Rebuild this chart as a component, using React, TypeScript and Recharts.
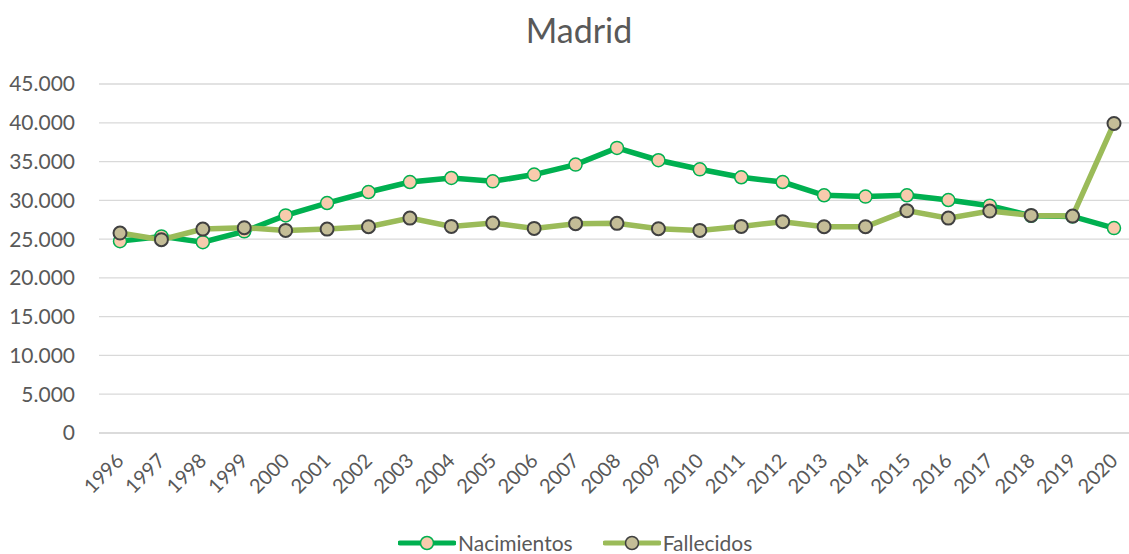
import { LineChart, Line, XAxis, YAxis, CartesianGrid } from "recharts";

const years = [
  "1996", "1997", "1998", "1999", "2000", "2001", "2002", "2003", "2004", "2005", "2006", "2007", "2008",
  "2009", "2010", "2011", "2012", "2013", "2014", "2015", "2016", "2017", "2018", "2019", "2020",
];

const nacimientos = [
  24740, 25350, 24610, 26000, 28060, 29650, 31070, 32360, 32880, 32450, 33320, 34610, 36760,
  35170, 34000, 32970, 32360, 30650, 30480, 30650, 30040, 29310, 28000, 27930, 26420,
];

const fallecidos = [
  25780, 24920, 26290, 26470, 26120, 26290, 26600, 27710, 26640, 27070, 26380, 26990, 27030,
  26340, 26120, 26640, 27250, 26600, 26600, 28670, 27710, 28620, 28060, 27970, 39910,
];

const yTicks = [0, 5000, 10000, 15000, 20000, 25000, 30000, 35000, 40000, 45000];

const seriesNames = ["Nacimientos", "Fallecidos"];

const data = years.map((year, i) => ({
  year,
  Nacimientos: nacimientos[i],
  Fallecidos: fallecidos[i],
}));

const FONT = "Lato, 'Open Sans', sans-serif";
const TEXT = "#595959";

// thousands with a dot, like the Spanish Excel source
const fmt = (v: number) => String(v).replace(/\B(?=(\d{3})+(?!\d))/g, ".");

function YearTick({ x, y, payload }: any) {
  const ax = x + 5;
  const ay = y + 21;
  return (
    <text
      x={ax}
      y={ay}
      transform={`rotate(-45, ${ax}, ${ay})`}
      textAnchor="end"
      fontSize={20}
      fontFamily={FONT}
      fill={TEXT}
    >
      {payload.value}
    </text>
  );
}

function LegendItem({ name, line, fill, stroke, r }: any) {
  return (
    <div style={{ display: "flex", alignItems: "center", marginRight: 30 }}>
      <svg width={58} height={16}>
        <line x1={2} y1={8} x2={56} y2={8} stroke={line} strokeWidth={5} strokeLinecap="round" />
        <circle cx={29} cy={8} r={r} fill={fill} stroke={stroke} strokeWidth={1.5} />
      </svg>
      <span style={{ marginLeft: 2 }}>{name}</span>
    </div>
  );
}

export default function App() {
  return (
    <div
      style={{
        position: "absolute",
        left: 0,
        top: 0,
        width: 1129,
        height: 554,
        overflow: "hidden",
        background: "#fff",
        fontFamily: FONT,
        color: TEXT,
      }}
    >
      <div
        style={{
          position: "absolute",
          top: 8,
          left: 479,
          width: 200,
          textAlign: "center",
          fontSize: 34,
          lineHeight: "44px",
        }}
      >
        Madrid
      </div>
      <LineChart
        width={1140}
        height={554}
        data={data}
        margin={{ top: 84, right: 5, bottom: 0, left: 0 }}
      >
        <CartesianGrid vertical={false} stroke="#D9D9D9" strokeWidth={1.3} />
        <XAxis
          dataKey="year"
          tick={<YearTick />}
          tickLine={false}
          axisLine={{ stroke: "#D9D9D9", strokeWidth: 1.3 }}
          interval={0}
          height={121}
          padding={{ left: 21, right: 21 }}
        />
        <YAxis
          domain={[0, 45000]}
          ticks={yTicks}
          tickFormatter={fmt}
          width={99}
          tickLine={false}
          axisLine={false}
          tickSize={0}
          tickMargin={24}
          tick={{ fontSize: 21, fill: TEXT, fontFamily: FONT }}
          interval={0}
        />
        <Line
          dataKey={seriesNames[0]}
          stroke="#00B050"
          strokeWidth={5.5}
          dot={{ r: 6.5, fill: "#F8CBAD", stroke: "#00B050", strokeWidth: 1.5 }}
          isAnimationActive={false}
        />
        <Line
          dataKey={seriesNames[1]}
          stroke="#9BBB59"
          strokeWidth={5.5}
          dot={{ r: 6.5, fill: "#C4BD97", stroke: "#404040", strokeWidth: 2 }}
          isAnimationActive={false}
        />
      </LineChart>
      <div
        style={{
          position: "absolute",
          top: 530,
          left: 398,
          display: "flex",
          fontSize: 21,
          lineHeight: "26px",
        }}
      >
        <LegendItem name={seriesNames[0]} line="#00B050" fill="#F8CBAD" stroke="#00B050" r={6.5} />
        <LegendItem name={seriesNames[1]} line="#9BBB59" fill="#C4BD97" stroke="#404040" r={6.5} />
      </div>
    </div>
  );
}
